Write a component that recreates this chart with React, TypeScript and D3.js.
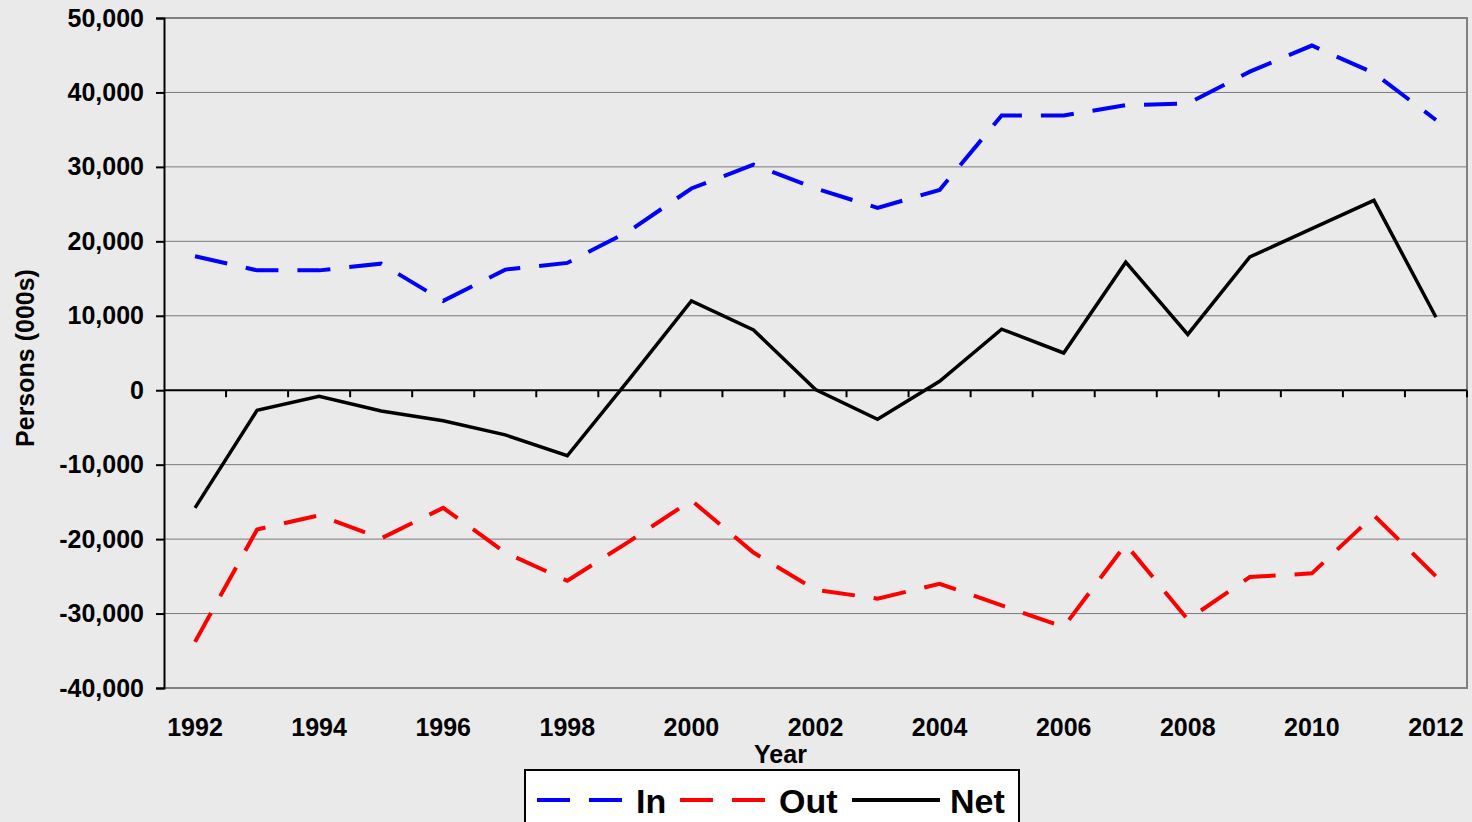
import React, { useEffect, useRef } from 'react';
import * as d3 from 'd3';

// Migration flows by year (thousands of persons)
const years = [1992, 1993, 1994, 1995, 1996, 1997, 1998, 1999, 2000, 2001, 2002,
  2003, 2004, 2005, 2006, 2007, 2008, 2009, 2010, 2011, 2012];
const inflow = [18000, 16100, 16100, 17000, 12000, 16200, 17100, 21400, 27100, 30300, 27100,
  24500, 26900, 36900, 36900, 38300, 38500, 42800, 46300, 42600, 36300];
const outflow = [-33800, -18700, -16800, -19900, -15800, -21800, -25600, -20300, -14800, -21800, -26800,
  -28000, -26000, -28900, -31800, -20700, -30800, -25100, -24600, -16800, -25000];
const net = [-15800, -2700, -800, -2800, -4100, -6000, -8800, 1500, 12000, 8100, 100,
  -3900, 1200, 8200, 5000, 17200, 7500, 17900, 21700, 25500, 9800];
const yTicks = [-40000, -30000, -20000, -10000, 0, 10000, 20000, 30000, 40000, 50000];

const series = [
  { name: 'In', values: inflow, color: '#0000FF', dash: '33,19', width: 4 },
  { name: 'Out', values: outflow, color: '#FF0000', dash: '33,19', width: 4 },
  { name: 'Net', values: net, color: '#000000', dash: null, width: 3.5 },
];

const FONT = '"Liberation Sans", Arial, sans-serif';

const App = () => {
  const svgRef = useRef<SVGSVGElement>(null);

  useEffect(() => {
    const W = 1472;
    const H = 822;
    const left = 164, right = 1467, top = 18, bottom = 688;

    const svg = d3.select(svgRef.current).attr('width', W).attr('height', H);
    svg.selectAll('*').remove();

    svg.append('rect').attr('width', W).attr('height', H).attr('fill', '#EAEAEA');

    const x = d3.scaleBand<number>().domain(years).range([left, right]).padding(0);
    const cx = (d: number) => (x(d) as number) + x.bandwidth() / 2;
    const y = d3.scaleLinear().domain([-40000, 50000]).range([bottom, top]);

    // Gridlines
    svg.append('g')
      .selectAll('line')
      .data(yTicks.filter((t) => t !== 0 && t !== -40000 && t !== 50000))
      .join('line')
      .attr('x1', left).attr('x2', right)
      .attr('y1', (d) => y(d)).attr('y2', (d) => y(d))
      .attr('stroke', '#7a7a7a').attr('stroke-width', 1);

    // Plot frame (top, right, bottom)
    svg.append('path')
      .attr('d', `M${left},${top}H${right}V${bottom}H${left}`)
      .attr('fill', 'none').attr('stroke', '#808080').attr('stroke-width', 2);

    // Y axis
    const fmt = d3.format(',');
    const yAxis = svg.append('g')
      .attr('transform', `translate(${left},0)`)
      .call(d3.axisLeft(y).tickValues(yTicks).tickSize(8).tickPadding(12)
        .tickFormat((d) => fmt(d as number).replace('\u2212', '-')));
    yAxis.select('.domain').attr('stroke', '#000').attr('stroke-width', 2);
    yAxis.selectAll('.tick line').attr('stroke', '#000').attr('stroke-width', 2);
    yAxis.selectAll('text')
      .attr('font-family', FONT).attr('font-size', 25).attr('font-weight', 'bold').attr('fill', '#000');

    // Zero line with category ticks
    svg.append('line')
      .attr('x1', left).attr('x2', right).attr('y1', y(0)).attr('y2', y(0))
      .attr('stroke', '#000').attr('stroke-width', 2);
    const boundaries = years.slice(1).map((d) => x(d) as number).concat([right]);
    svg.append('g')
      .selectAll('line')
      .data(boundaries)
      .join('line')
      .attr('x1', (d) => d).attr('x2', (d) => d)
      .attr('y1', y(0)).attr('y2', y(0) + 7)
      .attr('stroke', '#000').attr('stroke-width', 2);

    // X labels
    svg.append('g')
      .selectAll('text')
      .data(years.filter((d, i) => i % 2 === 0))
      .join('text')
      .attr('x', (d) => cx(d))
      .attr('y', 736)
      .attr('text-anchor', 'middle')
      .attr('font-family', FONT).attr('font-size', 25).attr('font-weight', 'bold')
      .text((d) => String(d));

    svg.append('text')
      .attr('x', (left + right) / 2 - 35).attr('y', 763)
      .attr('text-anchor', 'middle')
      .attr('font-family', FONT).attr('font-size', 25).attr('font-weight', 'bold')
      .text('Year');

    svg.append('text')
      .attr('transform', `translate(34,${(top + bottom) / 2 + 5}) rotate(-90)`)
      .attr('text-anchor', 'middle')
      .attr('font-family', FONT).attr('font-size', 25).attr('font-weight', 'bold')
      .text('Persons (000s)');

    // Lines
    const line = d3.line<number>()
      .x((d, i) => cx(years[i]))
      .y((d) => y(d));

    series.forEach((s) => {
      svg.append('path')
        .datum(s.values)
        .attr('d', line)
        .attr('fill', 'none')
        .attr('stroke', s.color)
        .attr('stroke-width', s.width)
        .attr('stroke-dasharray', s.dash)
        .attr('stroke-linejoin', 'miter');
    });

    // Legend
    const lg = svg.append('g');
    lg.append('rect')
      .attr('x', 525).attr('y', 770).attr('width', 494).attr('height', 70)
      .attr('fill', '#fff').attr('stroke', '#000').attr('stroke-width', 2);
    const items = [
      { s: series[0], x0: 537, tx: 636 },
      { s: series[1], x0: 680, tx: 779 },
      { s: series[2], x0: 852, tx: 950 },
    ];
    items.forEach(({ s, x0, tx }) => {
      lg.append('line')
        .attr('x1', x0).attr('x2', x0 + 88).attr('y1', 800).attr('y2', 800)
        .attr('stroke', s.color).attr('stroke-width', 4)
        .attr('stroke-dasharray', s.dash);
      lg.append('text')
        .attr('x', tx).attr('y', 813)
        .attr('font-family', FONT).attr('font-size', 34).attr('font-weight', 'bold')
        .text(s.name);
    });
  }, []);

  return (
    <div style={{ position: 'absolute', left: 0, top: 0 }}>
      <svg ref={svgRef} style={{ display: 'block' }}></svg>
    </div>
  );
};

export default App;
